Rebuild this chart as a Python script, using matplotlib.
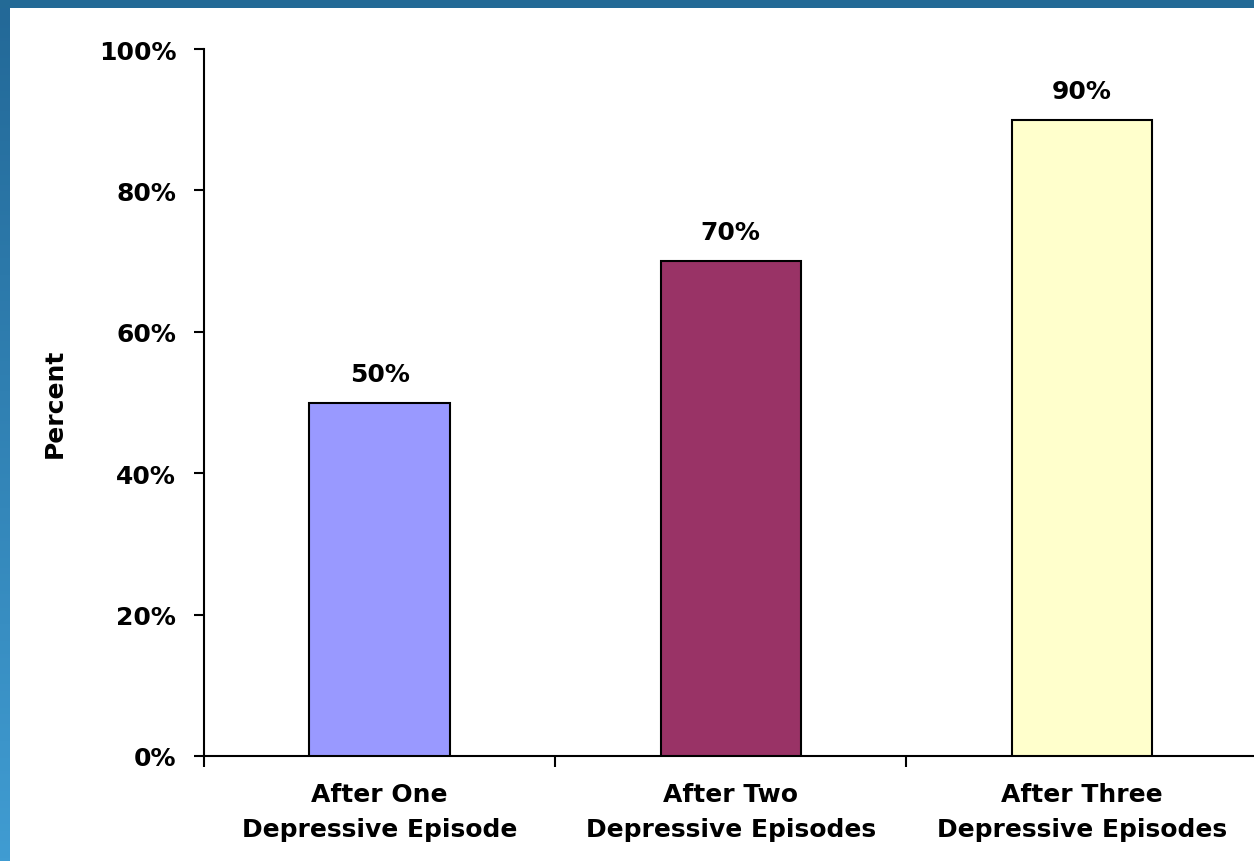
import numpy as np
import matplotlib
matplotlib.use("Agg")
import matplotlib.pyplot as plt
from matplotlib.ticker import FixedLocator, FuncFormatter, NullFormatter

# Data
categories = ["After One\nDepressive Episode",
              "After Two\nDepressive Episodes",
              "After Three\nDepressive Episodes"]
percents = [50, 70, 90]
bar_colors = ["#9999ff", "#993366", "#ffffcc"]
y_ticks = [0, 20, 40, 60, 80, 100]

plt.rcParams["font.family"] = ["DejaVu Sans"]
plt.rcParams["font.weight"] = "bold"

W, H = 1254, 862
fig = plt.figure(figsize=(W / 100, H / 100), dpi=100, facecolor="white")

# Blue frame: solid band along the top, vertical gradient along the left edge
top_ax = fig.add_axes([0, 1 - 9 / H, 1, 9 / H])
top_ax.set_axis_off()
top_ax.add_patch(plt.Rectangle((0, 0), 1, 1, color="#236a96", transform=top_ax.transAxes))

left_ax = fig.add_axes([0, 0, 10 / W, 1 - 9 / H])
c_top = np.array([0x23, 0x69, 0x98]) / 255
c_bot = np.array([0x40, 0x9c, 0xd2]) / 255
t = np.linspace(0, 1, 256)[:, None]
grad = (c_top[None, :] * (1 - t) + c_bot[None, :] * t)[:, None, :]
left_ax.imshow(grad, aspect="auto", extent=[0, 1, 0, 1])
left_ax.set_axis_off()

# Main chart
ax = fig.add_axes([204 / W, 105 / H, (W - 204) / W, 707 / H])
x = np.arange(len(categories))
ax.bar(x, percents, width=0.4, color=bar_colors, edgecolor="black", linewidth=1.5, zorder=3)

for xi, v in zip(x, percents):
    ax.text(xi, v + 2.4, f"{v}%", ha="center", va="bottom",
            fontsize=18, fontweight="bold", color="black")

ax.set_xlim(-0.5, 2.49)
ax.set_ylim(0, 100)

ax.yaxis.set_major_locator(FixedLocator(y_ticks))
ax.yaxis.set_major_formatter(FuncFormatter(lambda v, p: f"{int(v)}%"))
ax.tick_params(axis="y", direction="out", length=7, width=1.5, pad=13,
               labelsize=18)

# Category boundaries carry the tick marks; names sit at bar centres
ax.xaxis.set_major_locator(FixedLocator([-0.5, 0.5, 1.5, 2.5]))
ax.xaxis.set_major_formatter(NullFormatter())
ax.xaxis.set_minor_locator(FixedLocator(x))
ax.set_xticklabels(categories, minor=True)
ax.tick_params(axis="x", which="major", direction="out", length=8, width=1.5)
ax.tick_params(axis="x", which="minor", length=0, pad=19, labelsize=18)
for lbl in ax.get_xticklabels(minor=True):
    lbl.set_fontweight("bold")
    lbl.set_linespacing(1.55)
for lbl in ax.get_yticklabels():
    lbl.set_fontweight("bold")

for side in ("top", "right"):
    ax.spines[side].set_visible(False)
for side in ("left", "bottom"):
    ax.spines[side].set_linewidth(1.5)

ax.set_ylabel("Percent", fontsize=18, fontweight="bold", labelpad=23)

fig.savefig("out.png", dpi=100, facecolor="white")
